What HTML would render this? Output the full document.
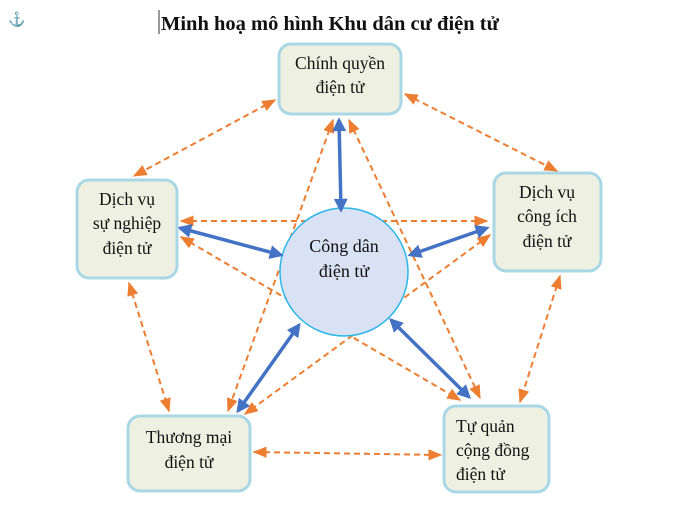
<!DOCTYPE html>
<html><head><meta charset="utf-8"><style>
body{margin:0;background:#fff;width:680px;height:509px;overflow:hidden}
svg{display:block}
text{font-family:"Liberation Serif",serif;fill:#111}
</style></head><body>
<svg width="680" height="509" viewBox="0 0 680 509" xmlns="http://www.w3.org/2000/svg">
<defs>
<marker id="o" viewBox="0 0 10 10" refX="9" refY="5" markerWidth="7" markerHeight="7" orient="auto-start-reverse"><path d="M0,1 L10,5 L0,9 Z" fill="#ED7D31"/></marker>
<marker id="b" viewBox="0 0 10 10" refX="8" refY="5" markerWidth="4" markerHeight="4" orient="auto-start-reverse"><path d="M0,0 L10,5 L0,10 Z" fill="#4472C4"/></marker>
</defs>
<text x="8" y="24" font-size="14" style="fill:#2E74B5">⚓</text>
<line x1="159" y1="10" x2="159" y2="34" stroke="#333" stroke-width="1"/>
<text x="161" y="30" font-size="20.5" font-weight="bold">Minh hoạ mô hình Khu dân cư điện tử</text>
<g stroke="#ED7D31" stroke-width="2" stroke-dasharray="6,4" fill="none" marker-start="url(#o)" marker-end="url(#o)">
<line x1="275" y1="100" x2="134" y2="176"/>
<line x1="405" y1="94" x2="557" y2="171"/>
<line x1="181" y1="221" x2="487" y2="221"/>
<line x1="129" y1="283" x2="169" y2="411"/>
<line x1="560" y1="276" x2="520" y2="402"/>
<line x1="254" y1="452" x2="441" y2="455"/>
<line x1="333" y1="120" x2="228" y2="411"/>
<line x1="349" y1="120" x2="480" y2="398"/>
<line x1="181" y1="237" x2="460" y2="400"/>
<line x1="490" y1="235" x2="245" y2="414"/>
</g>
<circle cx="344" cy="272" r="64" fill="#D9E1F4" stroke="#2CB6E8" stroke-width="1.5"/>
<text x="344" y="252" font-size="18" text-anchor="middle">Công dân</text>
<text x="344" y="277" font-size="18" text-anchor="middle">điện tử</text>
<g stroke="#4472C4" stroke-width="3.5" fill="none" marker-start="url(#b)" marker-end="url(#b)">
<line x1="339" y1="120" x2="341" y2="210"/>
<line x1="180" y1="228" x2="281" y2="255"/>
<line x1="487" y1="228" x2="410" y2="255"/>
<line x1="238" y1="411" x2="299" y2="325"/>
<line x1="391" y1="320" x2="469" y2="397"/>
</g>
<g fill="#EEF1E2" stroke="#A9D7E6" stroke-width="3">
<rect x="279" y="44" width="122" height="70" rx="12"/>
<rect x="77" y="180" width="100" height="98" rx="12"/>
<rect x="494" y="173" width="107" height="98" rx="12"/>
<rect x="128" y="416" width="122" height="75" rx="12"/>
<rect x="444" y="406" width="105" height="86" rx="12"/>
</g>
<g font-size="17.5" text-anchor="middle">
<text x="340" y="69">Chính quyền</text>
<text x="340" y="93">điện tử</text>
<text x="127" y="205">Dịch vụ</text>
<text x="127" y="229">sự nghiệp</text>
<text x="127" y="254">điện tử</text>
<text x="547" y="198">Dịch vụ</text>
<text x="547" y="222">công ích</text>
<text x="547" y="247">điện tử</text>
<text x="189" y="443">Thương mại</text>
<text x="189" y="468">điện tử</text>
</g>
<g font-size="17.5">
<text x="456" y="432">Tự quản</text>
<text x="456" y="456">cộng đồng</text>
<text x="456" y="480">điện tử</text>
</g>
</svg>
</body></html>
